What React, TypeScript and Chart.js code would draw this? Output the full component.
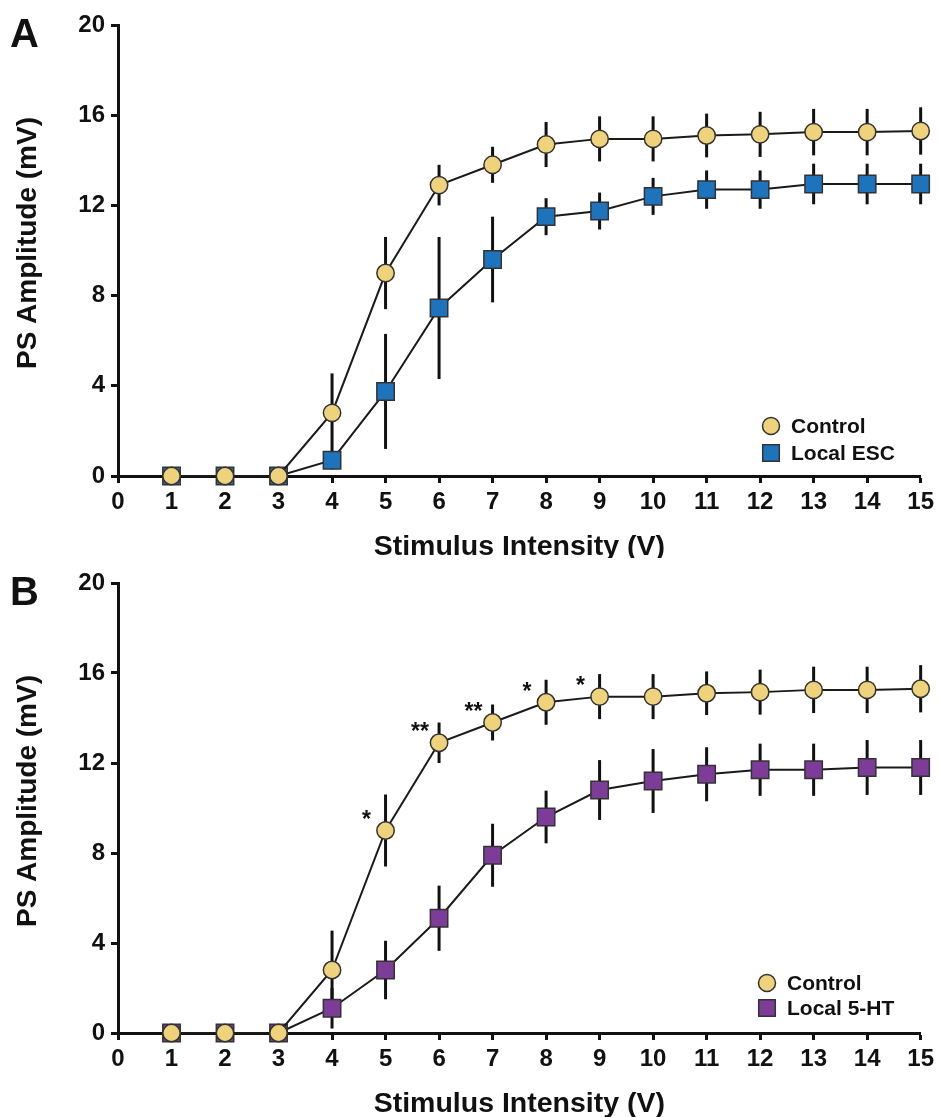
import React, { useEffect, useRef } from "react";
import { Chart, registerables } from "chart.js";

Chart.register(...registerables);

// ---------- data ----------
const intensities = [1, 2, 3, 4, 5, 6, 7, 8, 9, 10, 11, 12, 13, 14, 15];

const controlMean = [0, 0, 0, 2.8, 9.0, 12.9, 13.8, 14.7, 14.95, 14.95, 15.1, 15.15, 15.25, 15.25, 15.3];
const controlSem = [0, 0, 0, 1.75, 1.6, 0.9, 0.8, 1.0, 1.0, 1.0, 0.97, 1.0, 1.03, 1.03, 1.05];

const escMean = [0, 0, 0, 0.7, 3.75, 7.45, 9.6, 11.5, 11.75, 12.4, 12.7, 12.7, 12.95, 12.95, 12.95];
const escSem = [0, 0, 0, 0.4, 2.55, 3.15, 1.9, 0.82, 0.82, 0.82, 0.85, 0.85, 0.9, 0.9, 0.9];

const htMean = [0, 0, 0, 1.1, 2.8, 5.1, 7.9, 9.6, 10.8, 11.2, 11.5, 11.7, 11.7, 11.8, 11.8];
const htSem = [0, 0, 0, 0.9, 1.3, 1.45, 1.4, 1.17, 1.33, 1.42, 1.2, 1.16, 1.16, 1.22, 1.22];

const starIntensities = [5, 6, 7, 8, 9];
const starLabels = ["*", "**", "**", "*", "*"];

const xAxisTitle = "Stimulus Intensity (V)";
const yAxisTitle = "PS Amplitude (mV)";

// ---------- style ----------
const FONT = '"Liberation Sans", Arial, Helvetica, sans-serif';
const INK = "#111111";
const CONTROL_FILL = "#EFD27C";
const ESC_FILL = "#1D74BD";
const HT_FILL = "#7D3C97";

function makeOverlay(
  letter: string,
  legendX: number,
  legendRows: number[],
  stars: { x: number[]; labels: string[] } | null
) {
  return {
    id: "overlay",
    beforeDatasetsDraw(chart: any) {
      const { ctx } = chart;
      const xs = chart.scales.x;
      const ys = chart.scales.y;
      ctx.save();
      ctx.strokeStyle = INK;
      ctx.lineWidth = 3;
      ctx.lineCap = "butt";
      chart.data.datasets.forEach((ds: any) => {
        if (!ds.sem) return;
        ds.data.forEach((p: any, i: number) => {
          const s = ds.sem[i];
          if (!s) return;
          const px = xs.getPixelForValue(p.x);
          ctx.beginPath();
          ctx.moveTo(px, ys.getPixelForValue(p.y - s));
          ctx.lineTo(px, ys.getPixelForValue(p.y + s));
          ctx.stroke();
        });
      });
      ctx.restore();
    },
    afterDraw(chart: any) {
      const { ctx, chartArea } = chart;
      const xs = chart.scales.x;
      const ys = chart.scales.y;
      ctx.save();
      ctx.fillStyle = INK;

      // panel letter
      ctx.font = `bold 40px ${FONT}`;
      ctx.textAlign = "left";
      ctx.textBaseline = "alphabetic";
      ctx.fillText(letter, 10, chartArea.top + 22);

      // x title
      ctx.font = `bold 28.5px ${FONT}`;
      ctx.textAlign = "center";
      ctx.fillText(xAxisTitle, (chartArea.left + chartArea.right) / 2, chartArea.bottom + 79);

      // y title
      ctx.save();
      ctx.translate(36, chartArea.top + 218);
      ctx.rotate(-Math.PI / 2);
      ctx.font = `bold 28px ${FONT}`;
      ctx.textAlign = "center";
      ctx.fillText(yAxisTitle, 0, 0);
      ctx.restore();

      // legend
      const lx = chartArea.left + legendX;
      chart.data.datasets.forEach((ds: any, i: number) => {
        const cy = chartArea.bottom - legendRows[i];
        ctx.fillStyle = ds.backgroundColor;
        ctx.strokeStyle = "#333";
        ctx.lineWidth = 1.5;
        ctx.beginPath();
        if (ds.pointStyle === "circle") {
          ctx.arc(lx, cy, 8.5, 0, Math.PI * 2);
        } else {
          ctx.rect(lx - 8.3, cy - 8.3, 16.6, 16.6);
        }
        ctx.fill();
        ctx.stroke();
        ctx.fillStyle = INK;
        ctx.font = `bold 21px ${FONT}`;
        ctx.textAlign = "left";
        ctx.textBaseline = "middle";
        ctx.fillText(ds.label, lx + 20, cy + 1);
      });

      // significance stars
      if (stars) {
        ctx.font = `bold 23px ${FONT}`;
        ctx.textAlign = "center";
        ctx.textBaseline = "alphabetic";
        ctx.fillStyle = INK;
        stars.x.forEach((sx, i) => {
          const idx = intensities.indexOf(sx);
          const px = xs.getPixelForValue(sx) - 19;
          const py = ys.getPixelForValue(controlMean[idx]) - 16.5 + 13;
          ctx.fillText(stars.labels[i], px, py);
        });
      }
      ctx.restore();
    },
  };
}

function toPoints(values: number[]) {
  return intensities.map((x, i) => ({ x, y: values[i] }));
}

function buildChart(
  canvas: HTMLCanvasElement,
  letter: string,
  treatLabel: string,
  treatMean: number[],
  treatSem: number[],
  treatFill: string,
  bottomBox: number,
  legendX: number,
  legendRows: number[],
  stars: { x: number[]; labels: string[] } | null
) {
  const tickFont = { family: FONT, size: 24, weight: "bold" as const };
  return new Chart(canvas, {
    type: "line",
    data: {
      datasets: [
        {
          label: "Control",
          data: toPoints(controlMean),
          sem: controlSem,
          borderColor: "#1a1a1a",
          borderWidth: 2,
          backgroundColor: CONTROL_FILL,
          pointStyle: "circle",
          pointRadius: 8.7,
          pointBorderWidth: 1.5,
          pointBorderColor: "#333",
          pointBackgroundColor: CONTROL_FILL,
          tension: 0,
          clip: false,
        } as any,
        {
          label: treatLabel,
          data: toPoints(treatMean),
          sem: treatSem,
          borderColor: "#1a1a1a",
          borderWidth: 2,
          backgroundColor: treatFill,
          pointStyle: "rect",
          pointRadius: 12.3,
          pointBorderWidth: 1.5,
          pointBorderColor: "#333",
          pointBackgroundColor: treatFill,
          tension: 0,
          clip: false,
        } as any,
      ],
    },
    options: {
      responsive: false,
      animation: false,
      events: [],
      layout: { padding: { top: 25, right: 17, bottom: 0, left: 0 } },
      plugins: {
        legend: { display: false },
        tooltip: { enabled: false },
        title: { display: false },
      },
      scales: {
        x: {
          type: "linear",
          min: 0,
          max: 15,
          offset: false,
          afterFit: (s: any) => {
            s.height = bottomBox;
          },
          border: { display: true, width: 3, color: INK },
          grid: {
            display: true,
            drawOnChartArea: false,
            drawTicks: true,
            tickLength: 7,
            tickWidth: 3,
            tickColor: INK,
          },
          ticks: {
            stepSize: 1,
            autoSkip: false,
            maxRotation: 0,
            padding: 5,
            color: INK,
            font: tickFont,
          },
        },
        y: {
          type: "linear",
          min: 0,
          max: 20,
          afterFit: (s: any) => {
            s.width = 118;
          },
          border: { display: true, width: 3, color: INK },
          grid: {
            display: true,
            drawOnChartArea: false,
            drawTicks: true,
            tickLength: 7,
            tickWidth: 3,
            tickColor: INK,
          },
          ticks: {
            stepSize: 4,
            padding: 6,
            color: INK,
            font: tickFont,
          },
        },
      },
    } as any,
    plugins: [makeOverlay(letter, legendX, legendRows, stars) as any],
  });
}

export default function App() {
  const refA = useRef<HTMLCanvasElement>(null);
  const refB = useRef<HTMLCanvasElement>(null);

  useEffect(() => {
    const a = buildChart(refA.current!, "A", "Local ESC", escMean, escSem, ESC_FILL, 82, 653, [50, 23], null);
    const b = buildChart(refB.current!, "B", "Local 5-HT", htMean, htSem, HT_FILL, 84, 649, [50, 25], {
      x: starIntensities,
      labels: starLabels,
    });
    return () => {
      a.destroy();
      b.destroy();
    };
  }, []);

  return (
    <div style={{ position: "absolute", left: 0, top: 0, width: 939, height: 1117, background: "#fff" }}>
      <canvas ref={refA} width={939} height={558} style={{ display: "block", width: 939, height: 558 }} />
      <canvas ref={refB} width={939} height={559} style={{ display: "block", width: 939, height: 559 }} />
    </div>
  );
}
